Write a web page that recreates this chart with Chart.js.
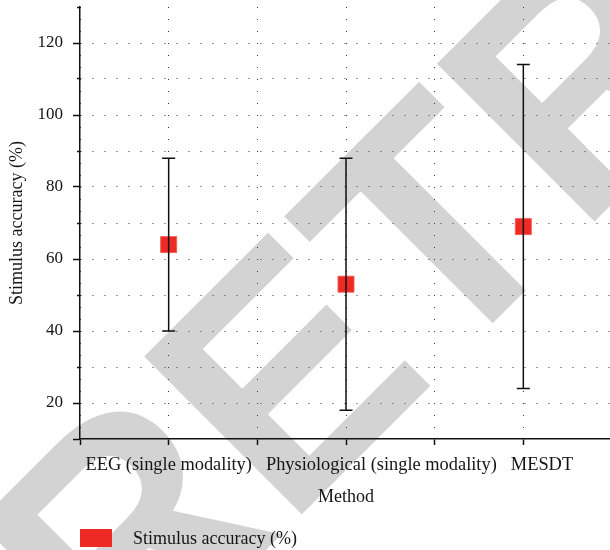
<!DOCTYPE html>
<html>
<head>
<meta charset="utf-8">
<script src="https://cdn.jsdelivr.net/npm/chart.js@4.4.1/dist/chart.umd.min.js"></script>
<style>
  html, body { margin: 0; padding: 0; background: #fff; overflow: hidden; }
  canvas { display: block; }
</style>
</head>
<body>
<canvas id="chart" width="612" height="550"></canvas>
<script>
// Methods compared and their stimulus accuracy (%), with error-bar extents
const methods = ['EEG (single modality)', 'Physiological (single modality)', 'MESDT'];
const accuracy = [64, 53, 69];
const errLow = [40, 18, 24];
const errHigh = [88, 88, 114];
const yMajorTicks = [20, 40, 60, 80, 100, 120];
const seriesLabel = 'Stimulus accuracy (%)';
const xTitle = 'Method';
const yTitle = 'Stimulus accuracy (%)';
const stampText = 'RETRACTED';

const serif = '"Liberation Serif", "Times New Roman", serif';
const markerRed = 'rgb(238, 42, 36)';
const dotColor = '#3a3a3a';
const inkColor = '#151515';

// Large grey stamp behind the plot
const stampPlugin = {
  id: 'stamp',
  beforeDraw(chart) {
    const ctx = chart.ctx;
    ctx.save();
    ctx.fillStyle = '#fff';
    ctx.fillRect(0, 0, chart.width, chart.height);
    ctx.translate(121, 695);
    ctx.rotate(-Math.PI / 4);
    ctx.font = 'bold 324px "Liberation Sans", Arial, sans-serif';
    ctx.fillStyle = 'rgb(211, 211, 211)';
    ctx.textBaseline = 'alphabetic';
    ctx.textAlign = 'left';
    ctx.fillText(stampText, 0, 0);
    ctx.restore();
  }
};

// Keep long category labels from overlapping: push each one right of its neighbour
const labelSpreadPlugin = {
  id: 'labelSpread',
  beforeDraw(chart) {
    const xs = chart.scales.x;
    const items = xs.getLabelItems(chart.chartArea);
    const ctx = chart.ctx;
    const gap = 14;
    let prevEnd = -Infinity;
    ctx.save();
    items.forEach(it => {
      if (!it.label) return;
      ctx.font = it.font.string;
      const w = ctx.measureText(it.label).width;
      let cx = it.options.translation[0];
      if (cx - w / 2 < prevEnd + gap) cx = prevEnd + gap + w / 2;
      it.options.translation[0] = cx;
      prevEnd = cx + w / 2;
    });
    ctx.restore();
  }
};

// Error bars drawn over the markers
const errorBarPlugin = {
  id: 'errorBars',
  afterDatasetsDraw(chart) {
    const ctx = chart.ctx;
    const xs = chart.scales.x, ys = chart.scales.y;
    const cap = 6.5;
    ctx.save();
    ctx.strokeStyle = '#111';
    ctx.lineWidth = 1.5;
    methods.forEach((m, i) => {
      const x = xs.getPixelForValue(i);
      const yLo = ys.getPixelForValue(errLow[i]);
      const yHi = ys.getPixelForValue(errHigh[i]);
      ctx.beginPath();
      ctx.moveTo(x, yLo); ctx.lineTo(x, yHi);
      ctx.moveTo(x - cap, yLo); ctx.lineTo(x + cap, yLo);
      ctx.moveTo(x - cap, yHi); ctx.lineTo(x + cap, yHi);
      ctx.stroke();
    });
    ctx.restore();
  }
};

// Legend swatch and label below the axis title
const legendPlugin = {
  id: 'bottomLegend',
  afterDraw(chart) {
    const ctx = chart.ctx;
    const ds = chart.data.datasets[0];
    const left = chart.chartArea.left;
    ctx.save();
    ctx.fillStyle = ds.backgroundColor;
    ctx.fillRect(left, 529, 32, 18);
    ctx.fillStyle = inkColor;
    ctx.font = '18px ' + serif;
    ctx.textBaseline = 'middle';
    ctx.textAlign = 'left';
    ctx.fillText(ds.label, left + 53, 539);
    ctx.restore();
  }
};

const isMajorY = v => yMajorTicks.includes(v);

new Chart(document.getElementById('chart'), {
  type: 'scatter',
  data: {
    datasets: [{
      label: seriesLabel,
      data: accuracy.map((v, i) => ({ x: i, y: v })),
      backgroundColor: markerRed,
      borderColor: 'rgba(240, 90, 85, 0.9)',
      borderWidth: 1,
      pointStyle: 'rect',
      pointRadius: 11.3,
      pointHoverRadius: 11.3
    }]
  },
  options: {
    responsive: false,
    animation: false,
    events: [],
    layout: { autoPadding: false, padding: { top: 7, bottom: 42, left: 0, right: 0 } },
    plugins: {
      legend: { display: false },
      tooltip: { enabled: false }
    },
    scales: {
      x: {
        type: 'linear',
        min: -0.5,
        max: 2.5,
        afterFit(scale) {
          scale.height = 69;
          scale.paddingLeft = 0;
          scale.paddingRight = 0;
        },
        ticks: {
          stepSize: 0.5,
          autoSkip: false,
          maxRotation: 0,
          minRotation: 0,
          padding: 9,
          color: inkColor,
          font: { family: serif, size: 18.4 },
          callback: v => Number.isInteger(v) ? methods[v] : ''
        },
        grid: {
          color: dotColor,
          lineWidth: 1,
          tickLength: 6,
          tickColor: '#111',
          tickWidth: 1.5,
          tickBorderDash: []
        },
        border: { display: true, color: '#111', width: 1.5, dash: [1, 11] },
        title: {
          display: true,
          text: xTitle,
          color: inkColor,
          font: { family: serif, size: 18 },
          padding: { top: 0, bottom: 0 }
        }
      },
      y: {
        type: 'linear',
        min: 10,
        max: 130,
        afterFit(scale) {
          scale.width = 80;
          scale.paddingTop = 0;
          scale.paddingBottom = 0;
        },
        ticks: {
          stepSize: 10,
          autoSkip: false,
          padding: 10,
          color: inkColor,
          font: { family: serif, size: 17 },
          callback: v => isMajorY(v) ? String(v) : ''
        },
        grid: {
          color: ctx => (ctx.tick && (ctx.tick.value === 130 || ctx.tick.value === 10)) ? 'rgba(0,0,0,0)' : dotColor,
          lineWidth: 1,
          tickLength: 7,
          tickColor: '#111',
          tickWidth: 1.5,
          tickBorderDash: ctx => (ctx.tick && !isMajorY(ctx.tick.value) && ctx.tick.value !== 10) ? [0, 4, 3, 100] : []
        },
        border: { display: true, color: '#111', width: 1.5, dash: [1, 11] },
        title: {
          display: true,
          text: yTitle,
          color: inkColor,
          font: { family: serif, size: 18 },
          padding: { top: 6, bottom: 0 }
        }
      }
    }
  },
  plugins: [stampPlugin, labelSpreadPlugin, errorBarPlugin, legendPlugin]
});
</script>
</body>
</html>
